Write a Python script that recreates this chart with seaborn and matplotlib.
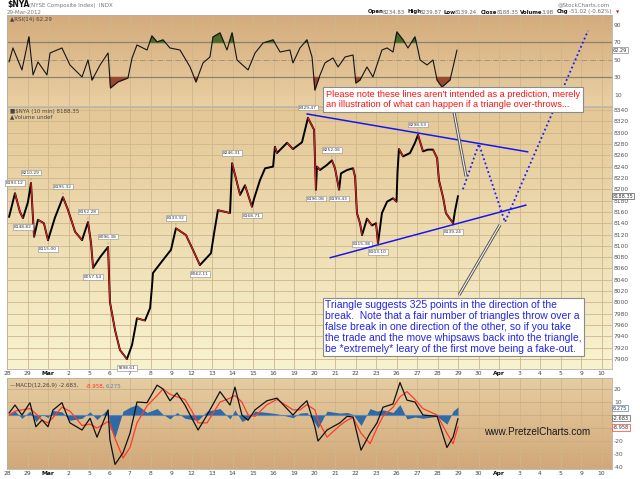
import numpy as np
import matplotlib
matplotlib.use("Agg")
import matplotlib.pyplot as plt
import seaborn as sns
from matplotlib.colors import LinearSegmentedColormap
from matplotlib.collections import LineCollection

sns.set_style("white")
plt.rcParams['font.family'] = ['DejaVu Sans']

# ------------------------------------------------------------------ data
day_labels = ["28", "29", "Mar", "2", "5", "6", "7", "8", "9", "12", "13", "14", "15",
              "16", "19", "20", "21", "22", "23", "26", "27", "28", "29", "30", "Apr",
              "3", "4", "5", "9", "10"]

# time in trading days (0 = Feb 28), 10-min close path
price_t = [0.10, 0.39, 0.63, 0.78, 1.02, 1.17, 1.32, 1.51, 1.80, 2.00, 2.34, 2.73, 2.98,
           3.32, 3.66, 3.95, 4.10, 4.20, 4.54, 4.93, 5.02, 5.27, 5.51, 5.85, 6.10, 6.34,
           6.73, 6.98, 7.07, 7.12, 7.61, 8.00, 8.24, 8.73, 9.07, 9.41, 9.95, 10.10, 10.29,
           10.88, 10.98, 11.37, 11.61, 11.95, 12.05, 12.34, 12.59, 12.98, 13.07, 13.17,
           13.66, 13.95, 14.39, 14.68, 14.98, 15.07, 15.12, 15.27, 15.61, 15.85, 16.00,
           16.20, 16.29, 16.59, 16.88, 16.98, 17.07, 17.22, 17.32, 17.56, 17.80, 18.00,
           18.10, 18.29, 18.54, 18.83, 19.00, 19.05, 19.12, 19.32, 19.66, 19.90, 20.05,
           20.29, 20.54, 20.78, 20.98, 21.07, 21.27, 21.41, 21.56, 21.76, 21.85, 22.00]
price_v = [8151, 8193, 8160, 8149, 8177, 8211, 8116, 8146, 8140, 8110, 8150, 8186, 8163,
           8125, 8110, 8142, 8105, 8061, 8080, 8098, 8001, 7951, 7916, 7900, 7925, 7972,
           7968, 7990, 8027, 8052, 8075, 8093, 8131, 8119, 8093, 8066, 8087, 8122, 8163,
           8158, 8246, 8190, 8207, 8169, 8183, 8216, 8237, 8240, 8275, 8264,
           8282, 8271, 8283, 8326, 8305, 8199, 8240, 8234, 8243, 8251, 8237,
           8199, 8228, 8234, 8237, 8222, 8158, 8140, 8119, 8148, 8136, 8140,
           8105, 8158, 8178, 8184, 8178, 8231, 8271, 8258, 8264, 8282, 8296,
           8267, 8270, 8270, 8255, 8216, 8186, 8158, 8150, 8140, 8161, 8188]

# swing-point value labels
ann_t = [0.39, 0.78, 1.17, 2.00, 2.73, 3.95, 4.20, 4.93, 5.85, 8.24, 9.41, 10.98,
         11.95, 14.68, 15.07, 15.85, 16.20, 17.32, 18.10, 20.05, 21.76]
ann_v = [8193, 8149, 8211, 8110, 8186, 8142, 8061, 8098, 7900, 8131, 8066, 8246,
         8169, 8326, 8199, 8251, 8199, 8119, 8105, 8296, 8140]
ann_txt = ["8193.12", "8148.82", "8210.29", "8115.00", "8195.32", "8152.28", "8057.54",
           "8096.38", "7898.61", "8133.32", "8062.11", "8246.31", "8168.71", "8329.47",
           "8196.08", "8252.06", "8199.43", "8115.38", "8103.10", "8298.53", "8139.24"]
ann_up = [1, 0, 1, 0, 1, 1, 0, 1, 0, 1, 0, 1, 0, 1, 0, 1, 0, 0, 0, 1, 0]

rsi_t = [0.10, 0.29, 0.73, 1.07, 1.27, 1.51, 1.95, 2.10, 2.68, 3.07, 3.66, 3.95, 4.15,
         4.54, 4.93, 5.05, 5.41, 5.90, 6.10, 6.34, 6.83, 7.07, 7.32, 7.61, 7.95, 8.44,
         8.93, 9.22, 9.56, 9.90, 10.05, 10.39, 10.73, 10.98, 11.22, 11.76, 12.10, 12.49,
         12.98, 13.32, 13.80, 13.95, 14.29, 14.63, 14.88, 15.02, 15.27, 15.51, 15.90,
         16.15, 16.49, 16.88, 17.02, 17.22, 17.56, 17.85, 18.29, 18.54, 18.83, 19.02,
         19.32, 19.56, 19.90, 20.05, 20.15, 20.49, 20.78, 20.98, 21.22, 21.61, 21.76, 21.95]
rsi_v = [47.7, 63.7, 38.6, 76.3, 32.9, 47.7, 32.9, 58.0, 63.7, 44.3, 30.6, 50.0, 27.1,
         44.3, 58.0, 18.0, 24.9, 29.4, 52.3, 67.1, 61.4, 77.4, 70.6, 72.9, 63.7, 61.4,
         42.0, 24.9, 46.6, 53.4, 76.3, 80.9, 61.4, 80.9, 50.0, 38.6, 58.0, 69.4,
         72.9, 59.1, 61.4, 46.6, 63.7, 72.9, 53.4, 15.7, 32.9, 46.6, 52.3,
         42.0, 53.4, 55.7, 23.7, 27.1, 42.0, 30.6, 61.4, 63.7, 59.1, 82.0,
         72.9, 63.7, 76.3, 61.4, 50.0, 44.3, 50.0, 27.1, 19.1, 27.1, 42.0, 61.4]

macd_t = [0.10, 0.39, 0.73, 1.12, 1.41, 1.71, 2.00, 2.24, 2.68, 3.07, 3.66, 4.05, 4.39,
          4.93, 5.02, 5.27, 5.66, 6.00, 6.34, 6.83, 7.32, 7.61, 7.95, 8.29, 8.68, 9.02,
          9.32, 9.76, 10.39, 10.88, 11.12, 11.46, 11.76, 12.10, 12.68, 13.17, 13.95,
          14.29, 14.63, 15.02, 15.17, 15.61, 16.24, 16.59, 16.88, 17.27, 17.71, 18.05,
          18.34, 18.83, 19.17, 19.51, 19.90, 20.29, 20.98, 21.46, 21.76, 22.00]
macd_v = [1.5, 7.7, 0.0, 9.5, -9.0, -3.8, -9.0, 3.8, 9.5, -6.0, -11.5, -2.5, -17.0,
          3.8, -19.0, -38.0, -29.0, -14.0, 10.0, 9.5, 23.0, 20.0, 11.0, 17.0, 7.7, -2.5,
          -11.5, 0.0, 18.0, 7.7, 21.5, 0.0, -4.0, 4.0, 11.0, 13.0, 0.0,
          6.0, 11.0, -9.0, -20.0, -11.5, -6.0, -1.0, -1.5, -27.0, -14.0, -6.0,
          6.0, 8.5, 25.0, 11.5, 10.0, 0.0, -1.0, -25.0, -17.0, -2.7]
signal_v = [0.0, 3.0, 4.0, 5.0, 1.0, -4.0, -6.0, -2.0, 6.0, 3.0, -8.0, -7.0, -10.0,
            -5.0, -6.0, -18.0, -33.0, -25.0, -6.0, 7.0, 15.0, 20.0, 16.0, 14.0, 12.0, 3.0,
            -6.0, -6.0, 10.0, 13.0, 15.0, 10.0, 0.0, -1.0, 8.0, 12.0, 4.0,
            4.0, 8.0, 4.0, -4.0, -17.0, -8.0, -4.0, -2.0, -14.0, -22.0, -10.0,
            -1.0, 6.0, 14.0, 18.0, 12.0, 5.0, 0.0, -14.0, -22.0, -9.0]
hist_v = [1.0, 3.0, -2.5, 3.0, -5.0, 0.5, -2.0, 3.5, 2.5, -4.0, -2.5, 2.5, -3.5,
          5.0, -10.0, -17.0, 3.0, 6.0, 8.0, 2.0, 5.0, 0.5, -3.0, 2.0, -2.5, -3.5,
          -4.0, 3.0, 5.0, -3.0, 4.0, -5.0, -2.5, 3.0, 2.0, 1.0, -2.0,
          1.5, 2.0, -6.0, -10.0, 3.0, 1.5, 2.0, 0.5, -8.0, 5.0, 3.0,
          4.0, 2.0, 8.0, -3.0, -1.5, -2.5, -1.0, -7.0, 3.0, 6.3]

# hand-drawn triangle and scenario path (price-panel coordinates)
upper_t, upper_v = [14.63, 25.41], [8333, 8266]
lower_t, lower_v = [15.76, 25.32], [8079, 8172]
path_t, path_v = [22.24, 23.02, 24.29, 28.34], [8200, 8280, 8142, 8480]
call1_t, call1_v = [21.76, 22.39], [8345, 8223]
call2_t, call2_v = [22.05, 24.05], [8013, 8137]

price_ticks = [7900, 7920, 7940, 7960, 7980, 8000, 8020, 8040, 8060, 8080, 8100, 8120,
               8140, 8160, 8180, 8200, 8220, 8240, 8260, 8280, 8300, 8320, 8340]
rsi_ticks = [10, 30, 50, 70, 90]
macd_ticks = [-40, -30, -20, -10, 0, 10, 20]
macd_ticklabels = ["-40", "-30", "-20", "", "", "10", "20"]   # 0 / -10 hidden by value boxes

# ------------------------------------------------------------------ figure
W, H = 640, 479
fig = plt.figure(figsize=(6.4, 4.79), dpi=100)
fig.patch.set_facecolor("white")


def fy(py):
    return 1 - py / H


L, WD = 7 / W, 604.75 / W
ax_r = fig.add_axes([L, fy(106), WD, 91 / H])
ax_p = fig.add_axes([L, fy(369), WD, 262 / H])
ax_m = fig.add_axes([L, fy(469), WD, 91 / H])

GRID = "#cdb68e"


def background(ax, top, bottom):
    cmap = LinearSegmentedColormap.from_list("g", [bottom, top])
    ax.imshow(np.linspace(1, 0, 256).reshape(-1, 1), cmap=cmap, extent=[0, 1, 0, 1],
              transform=ax.transAxes, aspect="auto", zorder=-10, interpolation="bilinear")


def style(ax, yticks, ylim, xlabels, ylabels=None):
    ax.set_xlim(0, 29.5)
    ax.set_ylim(*ylim)
    ax.set_xticks(range(len(day_labels)))
    ax.set_yticks(yticks)
    if ylabels is not None:
        ax.set_yticklabels(ylabels)
    ax.yaxis.tick_right()
    ax.tick_params(axis="y", length=0, labelsize=4.3, labelcolor="#555555", pad=1.5,
                   labelleft=False, labelright=True)
    ax.tick_params(axis="x", length=0, labelsize=4.3, labelcolor="#444444", pad=1.5,
                   labelbottom=xlabels)
    if xlabels:
        ax.set_xticklabels(day_labels)
        for lab in ax.get_xticklabels():
            if lab.get_text() in ("Mar", "Apr"):
                lab.set_fontweight("bold")
                lab.set_color("#111111")
    ax.grid(axis="x", color=GRID, lw=0.6)
    for s in ax.spines.values():
        s.set_color("#b8b0a0")
        s.set_linewidth(0.6)
    ax.set_xlabel("")
    ax.set_ylabel("")


# ---- RSI panel
background(ax_r, "#d4ab7c", "#e9d0a3")
r_t, r_v = np.array(rsi_t), np.array(rsi_v)
ax_r.axhline(70, color="#8e826c", lw=0.9, zorder=1)
ax_r.axhline(30, color="#8e826c", lw=0.9, zorder=1)
ax_r.axhline(50, color="#9a8e78", lw=0.6, ls="-.", zorder=1)
ax_r.fill_between(r_t, 70, r_v, where=r_v > 70, interpolate=True, color="#4c6b28", zorder=2)
ax_r.fill_between(r_t, 30, r_v, where=r_v < 30, interpolate=True, color="#984a30", zorder=2)
sns.lineplot(x=rsi_t, y=rsi_v, ax=ax_r, color="#151515", lw=0.8, zorder=3)
style(ax_r, rsi_ticks, (-2.6, 101.4), False)

# ---- price panel
background(ax_p, "#e4c795", "#f8f3cf")
ax_p.grid(axis="y", color=GRID, lw=0.6)
sns.lineplot(x=price_t, y=price_v, ax=ax_p, color="#000000", lw=1.4, zorder=3)
pts = np.column_stack([price_t, price_v])
segs = np.stack([pts[:-1], pts[1:]], axis=1)
down = [s for s in segs if s[1][1] < s[0][1]]
ax_p.add_collection(LineCollection(down, colors="#d42020", lw=0.9, zorder=4))
for t, v, txt, up in zip(ann_t, ann_v, ann_txt, ann_up):
    off = 6 if up else -5
    ax_p.annotate(txt, (t, v), xytext=(0, off), textcoords="offset points",
                  ha="center", va="bottom" if up else "top", fontsize=3.2,
                  color="#333333", zorder=5,
                  bbox=dict(boxstyle="square,pad=0.15", fc="white", ec="#8a8a8a", lw=0.4),
                  arrowprops=dict(arrowstyle="-", color="#8a8a8a", lw=0.4))
style(ax_p, price_ticks, (7882.4, 8345.3), True)

# overlays
ax_p.plot(upper_t, upper_v, color="#1616f0", lw=1.1, zorder=6, clip_on=False)
ax_p.plot(lower_t, lower_v, color="#1616f0", lw=1.1, zorder=6, clip_on=False)
ax_p.plot(path_t, path_v, color="#1a1aff", lw=1.3, ls=(0, (1, 1.5)), zorder=6, clip_on=False)
for ct, cv in ((call1_t, call1_v), (call2_t, call2_v)):
    ax_p.plot(ct, cv, color="#555555", lw=2.2, zorder=7, clip_on=False,
              solid_capstyle="butt")
    ax_p.plot(ct, cv, color="#f4f4f4", lw=0.8, zorder=8, clip_on=False,
              solid_capstyle="butt")

# ---- MACD panel
background(ax_m, "#e6cda2", "#d2a878")
ax_m.grid(axis="y", color="#c9ad84", lw=0.6)
ax_m.fill_between(macd_t, 0, hist_v, color="#2f6aa6", lw=0, zorder=2)
ax_m.plot([macd_t[0], macd_t[-1]], [0, 0], color="#5a86b8", lw=0.8, zorder=2)
sns.lineplot(x=macd_t, y=signal_v, ax=ax_m, color="#ff3a2a", lw=0.9, zorder=3)
sns.lineplot(x=macd_t, y=macd_v, ax=ax_m, color="#111111", lw=0.9, zorder=4)
style(ax_m, macd_ticks, (-41.5, 28.5), True, macd_ticklabels)

# ------------------------------------------------------------------ texts
FS = 4.0
fig.text(7 / W, fy(5), "$NYA", fontsize=5.5, fontweight="bold", va="center", color="#111")
fig.text(29 / W, fy(5), "(NYSE Composite Index)  INDX", fontsize=FS, va="center",
         color="#777777")
fig.text(7 / W, fy(12), "29-Mar-2012", fontsize=FS, va="center", color="#777777")
fig.text(610 / W, fy(5), "@StockCharts.com", fontsize=FS, va="center", ha="right",
         color="#777777")
hdr = [(368, "Open", True), (383, "8234.83", False), (407, "High", True),
       (420, "8239.87", False), (444, "Low", True), (455, "8139.24", False),
       (481, "Close", True), (497, "8188.35", False), (520, "Volume", True),
       (542, "3.9B", False), (557, "Chg", True), (569, "-51.02 (-0.62%)", False)]
for x, s, b in hdr:
    fig.text(x / W, fy(12), s, fontsize=3.9, va="center",
             fontweight="bold" if b else "normal", color="#111" if b else "#666")
fig.text(616 / W, fy(12), "\u25bc", fontsize=3.0, va="center", color="#d01818")

fig.text(10 / W, fy(19.5), "\u25b2RSI(14) 62.29", fontsize=FS, va="center", color="#444")
fig.text(10 / W, fy(111), "\u25a0$NYA (10 min) 8188.35", fontsize=FS, va="center",
         color="#444")
fig.text(10 / W, fy(116.5), "\u25b2Volume undef", fontsize=FS, va="center", color="#444")
fig.text(10 / W, fy(386), "\u2014MACD(12,26,9) -2.683,", fontsize=FS, va="center",
         color="#444")
fig.text(86 / W, fy(386), "-8.958,", fontsize=FS, va="center", color="#ff3a2a")
fig.text(106 / W, fy(386), "6.275", fontsize=FS, va="center", color="#5a86b8")

boxes = [(50, "62.29", "#888888"), (196, "8188.35", "#555555"), (408, "6.275", "#5a86b8"),
         (418, "-2.683", "#555555"), (427.5, "-8.958", "#ff3a2a")]
for y, s, ec in boxes:
    fig.text(613 / W, fy(y), s, fontsize=3.6, va="center", color="#333",
             bbox=dict(boxstyle="square,pad=0.12", fc="white", ec=ec, lw=0.5))

fig.text(326 / W, fy(99.5),
         "Please note these lines aren't intended as a prediction, merely\n"
         "an illustration of what can happen if a triangle over-throws...",
         family="Liberation Sans", fontsize=6.6, color="#ff1010", va="center",
         ha="left", linespacing=1.2,
         bbox=dict(boxstyle="square,pad=0.3", fc="white", ec="#8a8a8a", lw=0.8))
fig.text(325 / W, fy(327),
         "Triangle suggests 325 points in the direction of the\n"
         "break.  Note that a fair number of triangles throw over a\n"
         "false break in one direction of the other, so if you take\n"
         "the trade and the move whipsaws back into the triangle,\n"
         "be *extremely* leary of the first move being a fake-out.",
         family="Liberation Sans", fontsize=7.5, color="#2424e6", va="center",
         ha="left", linespacing=1.1,
         bbox=dict(boxstyle="square,pad=0.2", fc="white", ec="#8a8a8a", lw=0.8))
fig.text(484 / W, fy(432), "www.PretzelCharts.com", family="Liberation Sans",
         fontsize=7.2, color="#1a1a1a", va="center", ha="left")

fig.savefig("out.png", dpi=100)
